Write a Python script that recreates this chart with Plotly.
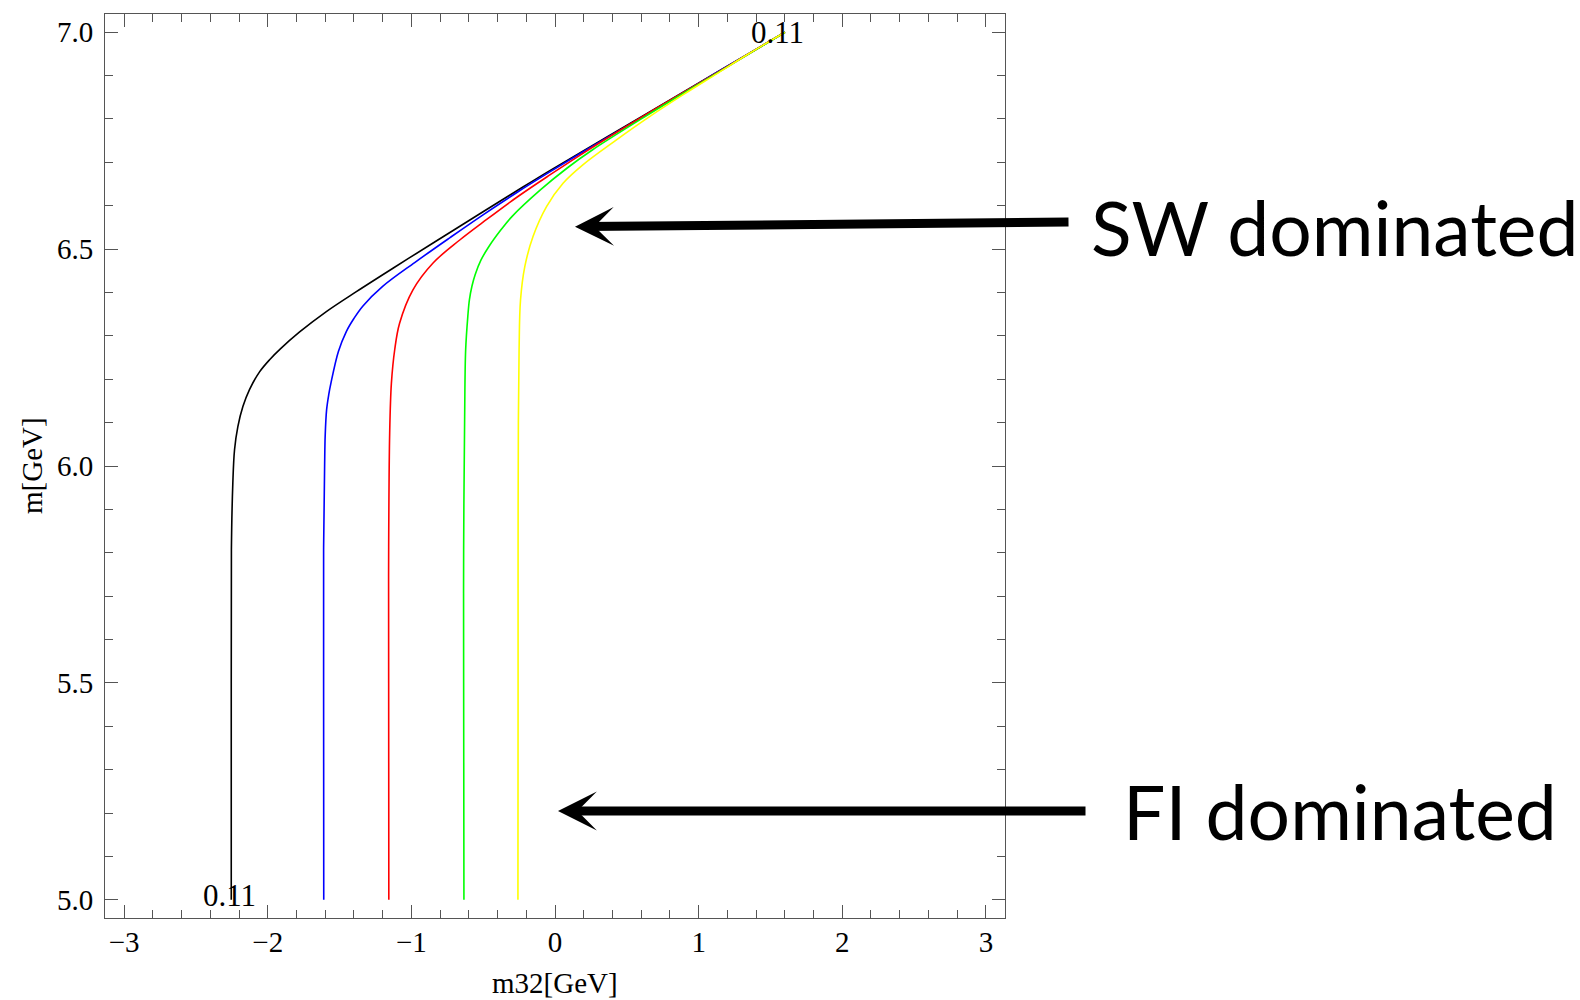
import plotly.graph_objects as go

# ---- data (x = m32 [GeV], y = m [GeV]) ----
black_x = [-2.254, -2.254, -2.253, -2.243, -2.231, -2.208, -2.173, -2.127, -2.057, -1.987, -1.912,
           -1.778, -1.592, -1.383, -1.128, -0.849, -0.690, -0.501, -0.268, -0.036, 0.638, 1.125, 1.601]
black_y = [5.000, 5.500, 5.807, 5.961, 6.038, 6.091, 6.137, 6.176, 6.217, 6.245, 6.270,
           6.309, 6.356, 6.402, 6.456, 6.514, 6.547, 6.586, 6.634, 6.681, 6.812, 6.907, 7.000]

blue_x = [-1.610, -1.611, -1.611, -1.604, -1.600, -1.590, -1.575, -1.560, -1.508, -1.453, -1.400,
          -1.337, -1.200, -0.977, -0.733, -0.501, -0.268, -0.036, 0.300, 0.638, 1.125, 1.601]
blue_y = [5.000, 5.500, 5.807, 5.999, 6.070, 6.130, 6.165, 6.191, 6.264, 6.310, 6.340,
          6.369, 6.414, 6.469, 6.526, 6.579, 6.630, 6.678, 6.745, 6.810, 6.907, 7.000]

red_x = [-1.157, -1.158, -1.158, -1.151, -1.139, -1.116, -1.082, -0.989, -0.849, -0.663, -0.501,
         -0.268, -0.036, 0.219, 0.638, 1.125, 1.601]
red_y = [5.000, 5.500, 5.807, 6.076, 6.191, 6.268, 6.329, 6.406, 6.468, 6.521, 6.562,
         6.619, 6.671, 6.726, 6.811, 6.906, 7.000]

green_x = [-0.634, -0.636, -0.636, -0.629, -0.622, -0.607, -0.596, -0.578, -0.556, -0.515, -0.460,
           -0.375, -0.300, -0.100, 0.085, 0.262, 0.630, 1.125, 1.601]
green_y = [5.000, 5.500, 5.807, 6.115, 6.268, 6.345, 6.383, 6.415, 6.441, 6.475, 6.506,
           6.545, 6.575, 6.637, 6.687, 6.729, 6.806, 6.905, 7.000]

yellow_x = [-0.258, -0.257, -0.257, -0.255, -0.250, -0.240, -0.210, -0.153, -0.059, 0.056, 0.196,
            0.428, 0.661, 0.893, 1.125, 1.357, 1.601]
yellow_y = [5.000, 5.500, 5.807, 6.100, 6.268, 6.383, 6.460, 6.529, 6.598, 6.652, 6.695,
            6.752, 6.806, 6.856, 6.904, 6.952, 7.000]

curve_names = ["black", "blue", "red", "green", "yellow"]
curve_colors = ["#000000", "#0000ff", "#ff0000", "#00ff00", "#ffff00"]
curves_x = [black_x, blue_x, red_x, green_x, yellow_x]
curves_y = [black_y, blue_y, red_y, green_y, yellow_y]

contour_label = "0.11"
label_x = [1.546, -2.265]
label_y = [7.000, 5.010]

x_title = "m32[GeV]"
y_title = "m[GeV]"
sw_text = "SW dominated"
fi_text = "FI dominated"

# ---- figure ----
fig = go.Figure()
for name, col, xs, ys in zip(curve_names, curve_colors, curves_x, curves_y):
    fig.add_trace(go.Scatter(x=xs, y=ys, mode="lines", name=name,
                             line=dict(color=col, width=1.6, shape="spline", smoothing=1.0),
                             showlegend=False, hoverinfo="x+y"))

serif = "Liberation Serif"
frame_col = "#555555"
axis_common = dict(
    showgrid=False, zeroline=False, showline=True, linecolor=frame_col, linewidth=1,
    mirror="allticks", ticks="inside", ticklen=13, tickwidth=1, tickcolor=frame_col,
    tickfont=dict(family=serif, size=29, color="black"),
)
fig.update_xaxes(range=[-3.133, 3.133], tick0=0, dtick=1, ticklabelstandoff=-2,
                 minor=dict(ticks="inside", ticklen=8, tickwidth=1, tickcolor=frame_col, dtick=0.2, tick0=0),
                 **axis_common)
fig.update_yaxes(range=[4.958, 7.042], tick0=5, dtick=0.5, tickformat=".1f", ticklabelstandoff=5,
                 minor=dict(ticks="inside", ticklen=8, tickwidth=1, tickcolor=frame_col, dtick=0.1, tick0=5),
                 **axis_common)

W, H = 1580, 1000
L, R, T, B = 105, 575, 14, 82
pw, ph = W - L - R, H - T - B

def px(xp):
    return (xp - L) / pw

def py(yp):
    return (H - B - yp) / ph

annotations = []
# contour labels
for lx, ly in zip(label_x, label_y):
    annotations.append(dict(x=lx, y=ly, xref="x", yref="y", text=contour_label, showarrow=False,
                            font=dict(family=serif, size=31, color="black"),
                            xanchor="center", yanchor="middle"))
# axis titles
annotations.append(dict(x=0.5, y=py(982.5), xref="paper", yref="paper", text=x_title, showarrow=False,
                        font=dict(family=serif, size=29, color="black"), xanchor="center", yanchor="middle"))
annotations.append(dict(x=px(32), y=0.5, xref="paper", yref="paper", text=y_title, showarrow=False,
                        textangle=-90, font=dict(family=serif, size=29, color="black"),
                        xanchor="center", yanchor="middle"))
# arrows
annotations.append(dict(x=px(575), y=py(226.7), xref="paper", yref="paper", ax=1070 - 575, ay=-4.7,
                        text="", showarrow=True, arrowhead=3, arrowsize=0.72, arrowwidth=9,
                        arrowcolor="black", standoff=0))
annotations.append(dict(x=px(558), y=py(811), xref="paper", yref="paper", ax=1087 - 558, ay=0,
                        text="", showarrow=True, arrowhead=3, arrowsize=0.72, arrowwidth=9,
                        arrowcolor="black", standoff=0))
# region labels
annotations.append(dict(x=px(1089), y=py(226.5), xref="paper", yref="paper", text=sw_text, showarrow=False,
                        font=dict(family="Lato", size=75, color="black"), xanchor="left", yanchor="middle"))
annotations.append(dict(x=px(1121), y=py(811), xref="paper", yref="paper", text=fi_text, showarrow=False,
                        font=dict(family="Lato", size=75, color="black"), xanchor="left", yanchor="middle"))

fig.update_layout(width=W, height=H, margin=dict(l=L, r=R, t=T, b=B, autoexpand=False),
                  paper_bgcolor="white", plot_bgcolor="white", annotations=annotations,
                  showlegend=False)

fig.write_html("out.html")
